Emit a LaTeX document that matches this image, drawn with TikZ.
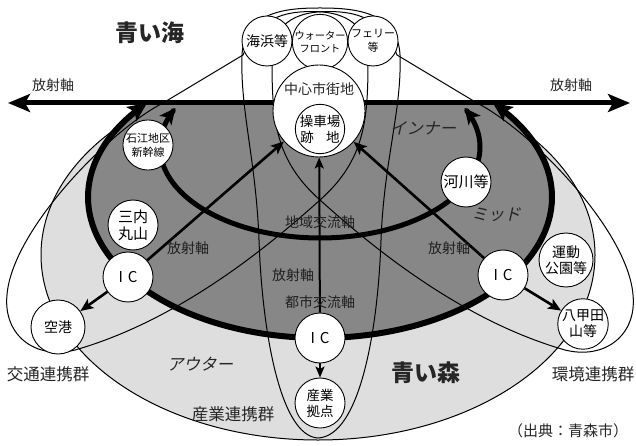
\documentclass[tikz,border=0pt]{standalone}
\usepackage{fontspec}
\newfontfamily\jp{Noto Sans CJK JP}
\newfontfamily\jpsl{Noto Sans CJK JP}[FakeSlant=0.22]
\usetikzlibrary{arrows.meta}
\pgfdeclarelayer{back}
\pgfsetlayers{back,main}
\definecolor{darkzone}{gray}{0.53}
\definecolor{lightzone}{gray}{0.87}
\newcommand{\fs}[2]{\fontsize{#1}{#2}\selectfont}
\begin{document}
\begin{tikzpicture}[x=1pt,y=-1pt,
 circ/.style={circle,draw=black,line width=0.9pt,fill=white,inner sep=0pt,minimum size=50pt,align=center,font=\jp\fs{14}{16}},
 thinloop/.style={line width=1pt,draw=black},
 axisline/.style={line width=5pt,{Stealth[length=22pt,width=18pt,inset=5pt]}-{Stealth[length=22pt,width=18pt,inset=5pt]}},
 ringmid/.style={line width=6pt,line join=round,{Stealth[length=19pt,width=17pt,inset=4pt]}-{Stealth[length=19pt,width=17pt,inset=4pt]}},
 ringin/.style={line width=5pt,line join=round,{Stealth[length=16pt,width=15pt,inset=4pt]}-{Stealth[length=16pt,width=15pt,inset=4pt]}},
 radial/.style={line width=2.6pt,-{Stealth[length=13pt,width=11pt,inset=3pt]}},
 vradial/.style={line width=2pt,-{Stealth[length=11pt,width=9pt,inset=2.5pt]}},
 lbl/.style={font=\jp\fs{14}{16},inner sep=0pt,text=black!85},
 onzone/.style={font=\jp\fs{14}{16},inner sep=0pt,text=black!88},
 grp/.style={font=\jp\fs{16.5}{18},inner sep=0pt,text=black!85},
 big/.style={font=\jp\bfseries\fs{23}{25},inner sep=0pt,text=black!85},
 zone/.style={font=\jpsl\fs{16.5}{18},inner sep=0pt,text=black!85},
]
\useasboundingbox (0,0) rectangle (636,446);

% ---------- circles ----------
\node[circ] (kaihin) at (267,41) {海浜等};
\node[circ,font=\jp\fs{10.2}{13}] (water) at (320,42) {ウォーター\\フロント};
\node[circ,font=\jp\fs{11}{14}] (ferry) at (373,41) {フェリー\\等};
\node[circ,minimum size=92pt] (chushin) at (319,111) {};
\node[lbl] (chushintxt) at (319,89) {中心市街地};
\node[circ,minimum size=46pt,font=\jp\fs{13.5}{16}] (soshajo) at (320,129) {操車場\\跡\hspace{0.9em}地};
\node[circ,font=\jp\fs{11}{14}] (ishie) at (148,145) {石江地区\\新幹線};
\node[circ,font=\jp\fs{15}{17}] (sannai) at (133,225) {三内\\丸山};
\node[circ,font=\jp\fs{15}{16}] (ICl) at (128,277) {I\hspace{5pt}C};
\node[circ,minimum size=54pt] (kuko) at (58,327) {空港};
\node[circ,font=\jp\fs{15}{16}] (ICb) at (320,338) {I\hspace{5pt}C};
\node[circ,font=\jp\fs{13.5}{16}] (sangyo) at (320,403) {産業\\拠点};
\node[circ,font=\jp\fs{15}{17}] (kasen) at (466,182) {河川等};
\node[circ,font=\jp\fs{15}{16}] (ICr) at (503,275) {I\hspace{5pt}C};
\node[circ,minimum size=54pt,font=\jp\fs{14}{16}] (undo) at (566,260) {運動\\公園等};
\node[circ,font=\jp\fs{14}{16}] (hakkoda) at (583,324) {八甲田\\山等};

\coordinate (axL) at (8,103);
\coordinate (axR) at (630,103);

\begin{pgfonlayer}{back}
 \fill[white] (0,0) rectangle (636,446);
 \begin{scope}
  \clip (0,103) rectangle (636,446);
  \fill[lightzone] (318,255) ellipse [x radius=277, y radius=185];
  \draw[thinloop] (318,255) ellipse [x radius=277, y radius=185];
  \fill[darkzone] (320,197) ellipse [x radius=232, y radius=141];
 \end{scope}
 % transport loop
 \draw[thinloop] (300,12) .. controls (340,9) and (368,20) .. (368,60)
   .. controls (368,120) and (365,160) .. (320,200)
   .. controls (270,245) and (180,320) .. (75,350)
   .. controls (35,360) and (3,335) .. (7,295)
   .. controls (12,230) and (110,130) .. (163,103)
   -- (243,55) .. controls (255,25) and (275,14) .. (300,12);
 % environment loop
 \draw[thinloop] (340,12) .. controls (300,9) and (272,20) .. (272,60)
   .. controls (272,120) and (275,160) .. (320,200)
   .. controls (370,245) and (460,320) .. (565,350)
   .. controls (605,360) and (637,335) .. (633,295)
   .. controls (628,230) and (530,130) .. (477,103)
   -- (397,55) .. controls (385,25) and (365,14) .. (340,12);
 % industry loop
 \draw[thinloop] (318,438) .. controls (280,436) and (262,330) .. (259,240)
   .. controls (256,160) and (240,110) .. (242,55)
   .. controls (244,10) and (290,8) .. (320,8)
   .. controls (350,8) and (398,10) .. (400,55)
   .. controls (402,110) and (384,160) .. (381,240)
   .. controls (378,330) and (360,436) .. (318,438) -- cycle;
 % rings
 \draw[ringmid] plot[domain=-41.8:221.8,samples=120] ({320+232*cos(\x)},{197+141*sin(\x)});
 \draw[ringin] plot[domain=-25.4:205.4,samples=120] ({320+160*cos(\x)},{147+91*sin(\x)});
 % main axis
 \draw[axisline] (axL) -- (axR);
\end{pgfonlayer}

% ---------- radial arrows ----------
\draw[radial] (ICl) -- (chushin);
\draw[radial] (ICl) -- (kuko);
\draw[radial] (ICr) -- (chushin);
\draw[radial] (ICr) -- (hakkoda);
\draw[vradial] (ICb) -- (chushin);
\draw[vradial] (ICb) -- (sangyo);

% ---------- labels ----------
\node[big] (umi) at (150,33) {青い海};
\node[big] (mori) at (426,373) {青い森};
\node[lbl] (rad1) at (53,85) {放射軸};
\node[lbl] (rad2) at (571,85) {放射軸};
\node[zone] (inner) at (423,128) {インナー};
\node[zone] (mid) at (496,215) {ミッド};
\node[zone] (outer) at (200,364) {アウター};
\node[onzone] (chiiki) at (320,222) {地域交流軸};
\node[onzone] (rad3) at (293,275) {放射軸};
\node[onzone] (toshi) at (320,302) {都市交流軸};
\node[onzone] (rad4) at (188,248) {放射軸};
\node[onzone] (rad5) at (449,248) {放射軸};
\node[grp] (kotsu) at (48,374) {交通連携群};
\node[grp] (sangyog) at (233,414) {産業連携群};
\node[grp] (kankyo) at (593,374) {環境連携群};
\node[grp,font=\jp\fs{15}{17}] (src) at (568,431) {（出典：青森市）};
\end{tikzpicture}
\end{document}
